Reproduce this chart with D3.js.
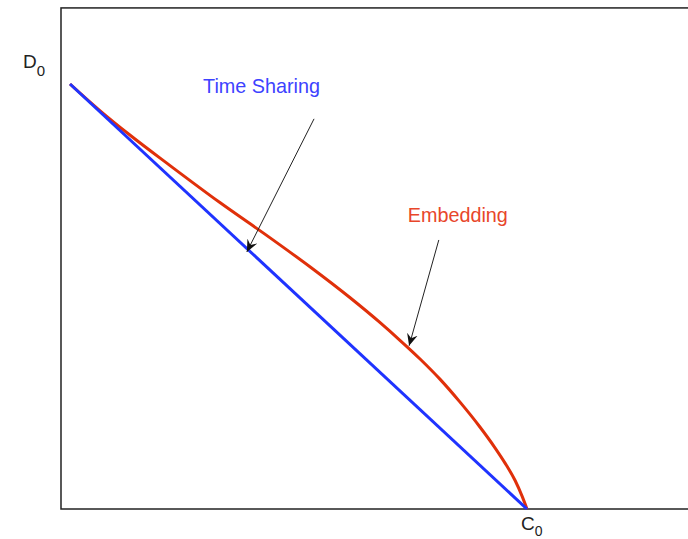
<!DOCTYPE html>
<html>
<head>
<meta charset="utf-8">
<script src="https://cdn.jsdelivr.net/npm/d3@7"></script>
<style>
  body { margin: 0; background: #fff; }
  text { font-family: "Liberation Sans", Arial, sans-serif; }
</style>
</head>
<body>
<script>
var svgWidth = 688;
var svgHeight = 539;

// rate region boundaries (normalised: C0 = 1, D0 = 1)
var timeSharing = [
    { c: 0, d: 1 },
    { c: 1, d: 0 }
];
var embedding = [
    { c: 0, d: 1 },
    { c: 0.066, d: 0.937 },
    { c: 0.131, d: 0.880 },
    { c: 0.219, d: 0.808 },
    { c: 0.328, d: 0.721 },
    { c: 0.438, d: 0.638 },
    { c: 0.525, d: 0.570 },
    { c: 0.613, d: 0.497 },
    { c: 0.678, d: 0.439 },
    { c: 0.722, d: 0.397 },
    { c: 0.766, d: 0.353 },
    { c: 0.810, d: 0.305 },
    { c: 0.853, d: 0.252 },
    { c: 0.897, d: 0.193 },
    { c: 0.930, d: 0.144 },
    { c: 0.952, d: 0.108 },
    { c: 0.974, d: 0.067 },
    { c: 0.989, d: 0.031 },
    { c: 1, d: 0 }
];
var seriesNames = ["Time Sharing", "Embedding"];
// annotation arrows: from label to curve
var arrowFrom = [{ c: 0.534, d: 0.918 }, { c: 0.807, d: 0.633 }];
var arrowTo = [{ c: 0.387, d: 0.605 }, { c: 0.742, d: 0.384 }];
var axisLabels = ["D", "C"];

var x = d3.scaleLinear().domain([0, 1]).range([70, 527]);
var y = d3.scaleLinear().domain([0, 1]).range([509, 84]);

var svg = d3.select("body").append("svg")
    .attr("width", svgWidth)
    .attr("height", svgHeight);

svg.append("defs").append("marker")
    .attr("id", "arrow")
    .attr("viewBox", "0 0 10 10")
    .attr("refX", 10)
    .attr("refY", 5)
    .attr("markerWidth", 12)
    .attr("markerHeight", 12)
    .attr("markerUnits", "userSpaceOnUse")
    .attr("orient", "auto")
  .append("path")
    .attr("d", "M0,0.5 L10,5 L0,9.5 L3.5,5 Z")
    .attr("fill", "#111");

// frame
svg.append("rect")
    .attr("x", x(-0.0197))
    .attr("y", y(1.179))
    .attr("width", x(1.45) - x(-0.0197))
    .attr("height", y(0) - y(1.179))
    .attr("fill", "none")
    .attr("stroke", "#222")
    .attr("stroke-width", 1.5);

svg.append("path")
    .datum(embedding)
    .attr("d", d3.line().x(d => x(d.c)).y(d => y(d.d)).curve(d3.curveMonotoneX))
    .attr("fill", "none")
    .attr("stroke", "#e0300a")
    .attr("stroke-width", 3);

svg.append("path")
    .datum(timeSharing)
    .attr("d", d3.line().x(d => x(d.c)).y(d => y(d.d)))
    .attr("fill", "none")
    .attr("stroke", "#1f33ff")
    .attr("stroke-width", 3);

// annotation arrows
svg.selectAll("line.arrow")
    .data(arrowFrom)
    .join("line")
    .attr("class", "arrow")
    .attr("x1", d => x(d.c))
    .attr("y1", d => y(d.d))
    .attr("x2", (d, i) => x(arrowTo[i].c))
    .attr("y2", (d, i) => y(arrowTo[i].d))
    .attr("stroke", "#222")
    .attr("stroke-width", 1)
    .attr("marker-end", "url(#arrow)");

var labelColors = ["#3d42ff", "#e8462a"];
svg.selectAll("text.series")
    .data(seriesNames)
    .join("text")
    .attr("class", "series")
    .attr("x", (d, i) => x(arrowFrom[i].c) + [-111, -31][i])
    .attr("y", (d, i) => y(arrowFrom[i].d) + [-26, -18][i])
    .attr("fill", (d, i) => labelColors[i])
    .attr("font-size", 19.8)
    .text(d => d);

// axis end labels with subscript 0
var dLab = svg.append("text")
    .attr("x", x(-0.0197) - 38)
    .attr("y", y(1) - 16)
    .attr("fill", "#222")
    .attr("font-size", 19);
dLab.append("tspan").text(axisLabels[0]);
dLab.append("tspan").attr("font-size", 15).attr("dy", 8).text("0");

var cLab = svg.append("text")
    .attr("x", x(1) - 6)
    .attr("y", y(0) + 21)
    .attr("fill", "#222")
    .attr("font-size", 19);
cLab.append("tspan").text(axisLabels[1]);
cLab.append("tspan").attr("font-size", 14).attr("dy", 6).text("0");
</script>
</body>
</html>
